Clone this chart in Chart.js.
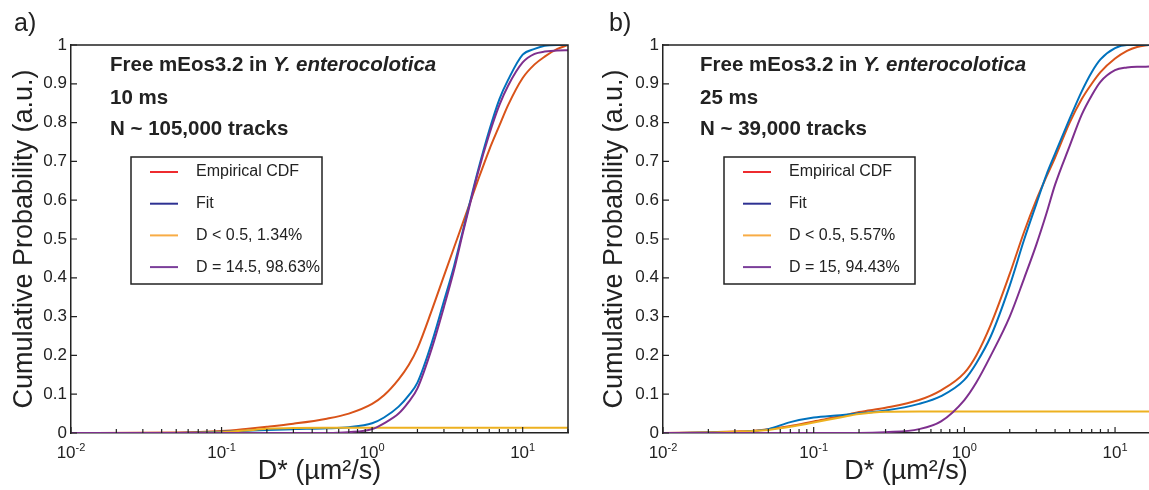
<!DOCTYPE html>
<html>
<head>
<meta charset="utf-8">
<script src="https://cdn.jsdelivr.net/npm/chart.js@4.4.0/dist/chart.umd.min.js"></script>
<style>
  body { margin: 0; background: #fff; }
  .panel { position: absolute; top: 0; height: 490px; }
  #wrapA { left: 0; width: 580px; }
  #wrapB { left: 590px; width: 559px; }
</style>
</head>
<body>
<div class="panel" id="wrapA"><canvas id="chartA"></canvas></div>
<div class="panel" id="wrapB"><canvas id="chartB"></canvas></div>
<script>
// series names (legend)
const labelsA = ["Empirical CDF", "Fit", "D < 0.5, 1.34%", "D = 14.5, 98.63%"];
const labelsB = ["Empirical CDF", "Fit", "D < 0.5, 5.57%", "D = 15, 94.43%"];

// panel text
const headA = ["10 ms", "N ~ 105,000 tracks"];
const headB = ["25 ms", "N ~ 39,000 tracks"];

// tick labels
const xExponents = [-2, -1, 0, 1];
const yTicks = [0, 0.1, 0.2, 0.3, 0.4, 0.5, 0.6, 0.7, 0.8, 0.9, 1];

// a) 10 ms, D* in um^2/s
const xA = [0.01, 0.05, 0.1, 0.15, 0.2, 0.3, 0.5, 0.7, 1, 1.2, 1.5, 1.75, 2, 2.5, 3, 3.5, 4, 4.5, 5, 6, 7, 8, 10, 12, 14, 17, 20];
const empA = [0, 0.001, 0.005, 0.011, 0.016, 0.024, 0.037, 0.05, 0.075, 0.097, 0.138, 0.175, 0.218, 0.318, 0.405, 0.478, 0.541, 0.597, 0.647, 0.73, 0.792, 0.845, 0.915, 0.95, 0.97, 0.99, 1.0];
const fitA = [0, 0, 0.003, 0.006, 0.008, 0.01, 0.012, 0.015, 0.025, 0.04, 0.068, 0.097, 0.13, 0.235, 0.34, 0.43, 0.52, 0.6, 0.67, 0.78, 0.86, 0.91, 0.975, 0.99, 0.998, 1.0, 1.0];
const slowA = [0, 0, 0.002, 0.007, 0.011, 0.013, 0.0134, 0.0134, 0.0134, 0.0134, 0.0134, 0.0134, 0.0134, 0.0134, 0.0134, 0.0134, 0.0134, 0.0134, 0.0134, 0.0134, 0.0134, 0.0134, 0.0134, 0.0134, 0.0134, 0.0134, 0.0134];
const fastA = [0, 0, 0, 0, 0, 0, 0, 0.002, 0.01, 0.025, 0.05, 0.08, 0.115, 0.22, 0.325, 0.42, 0.515, 0.595, 0.665, 0.77, 0.845, 0.895, 0.955, 0.977, 0.983, 0.986, 0.9863];

// b) 25 ms
const xB = [0.01, 0.02, 0.03, 0.04, 0.05, 0.07, 0.1, 0.15, 0.2, 0.3, 0.5, 0.7, 1, 1.2, 1.5, 2, 2.5, 3, 3.5, 4, 5, 6, 7, 8, 10, 12, 14, 16.8];
const empB = [0, 0.002, 0.004, 0.006, 0.01, 0.018, 0.03, 0.043, 0.054, 0.065, 0.085, 0.11, 0.155, 0.2, 0.28, 0.41, 0.52, 0.6, 0.66, 0.71, 0.8, 0.86, 0.9, 0.93, 0.965, 0.985, 0.995, 1.0];
const fitB = [0, 0.001, 0.002, 0.005, 0.01, 0.028, 0.04, 0.046, 0.051, 0.058, 0.075, 0.095, 0.137, 0.18, 0.25, 0.38, 0.5, 0.59, 0.665, 0.72, 0.81, 0.88, 0.93, 0.963, 0.992, 1.0, 1.0, 1.0];
const slowB = [0, 0.001, 0.003, 0.005, 0.008, 0.016, 0.027, 0.04, 0.049, 0.055, 0.0557, 0.0557, 0.0557, 0.0557, 0.0557, 0.0557, 0.0557, 0.0557, 0.0557, 0.0557, 0.0557, 0.0557, 0.0557, 0.0557, 0.0557, 0.0557, 0.0557, 0.0557];
const fastB = [0, 0, 0, 0, 0, 0, 0, 0, 0, 0.002, 0.01, 0.03, 0.085, 0.13, 0.2, 0.3, 0.4, 0.485, 0.565, 0.64, 0.74, 0.82, 0.87, 0.905, 0.935, 0.942, 0.944, 0.9443];

const FONT = "'Liberation Sans', Arial, sans-serif";
const INK = "#222";
const lineColors = ["#D95319", "#0072BD", "#EDB120", "#7E2F8E"];
const legendColors = ["#EE2B2F", "#2E3192", "#F8AC45", "#7B3F9A"];
const drawOrder = [3, 2, 1, 0];

Chart.defaults.font.family = FONT;
Chart.defaults.color = INK;

// frame, inward ticks, x labels, header text and legend box
const decorate = {
  id: "decorate",
  afterDraw(chart, args, o) {
    const ctx = chart.ctx;
    const a = chart.chartArea;
    const x = chart.scales.x, y = chart.scales.y;
    ctx.save();

    ctx.strokeStyle = INK;
    ctx.lineWidth = 1.5;
    ctx.beginPath();
    ctx.moveTo(a.left, a.top);
    ctx.lineTo(a.right, a.top);
    if (o.rightFrame) ctx.lineTo(a.right, a.bottom);
    ctx.stroke();

    ctx.lineWidth = 1.2;
    ctx.beginPath();
    yTicks.forEach(function(v) {
      const py = y.getPixelForValue(v);
      ctx.moveTo(a.left, py);
      ctx.lineTo(a.left + 6, py);
    });
    for (let e = -2; e <= 1; e++) {
      for (let m = 1; m <= 9; m++) {
        const v = m * Math.pow(10, e);
        if (v > x.max) break;
        const px = x.getPixelForValue(v);
        ctx.moveTo(px, a.bottom);
        ctx.lineTo(px, a.bottom - (m === 1 ? 6 : 4));
      }
    }
    ctx.stroke();

    // 10^n labels
    ctx.fillStyle = INK;
    ctx.textAlign = "left";
    ctx.textBaseline = "alphabetic";
    xExponents.forEach(function(e) {
      const px = x.getPixelForValue(Math.pow(10, e));
      ctx.font = "17px " + FONT;
      const w1 = ctx.measureText("10").width;
      ctx.font = "11px " + FONT;
      const w2 = ctx.measureText(String(e)).width;
      const left = px - (w1 + w2) / 2;
      ctx.font = "17px " + FONT;
      ctx.fillText("10", left, a.bottom + 25);
      ctx.font = "11px " + FONT;
      ctx.fillText(String(e), left + w1, a.bottom + 18);
    });

    // panel letter
    ctx.font = "25px " + FONT;
    ctx.textBaseline = "middle";
    ctx.fillText(o.letter, o.letterX, 24);

    // header
    const tx = 110;
    ctx.font = "bold 20.5px " + FONT;
    const lead = "Free mEos3.2 in ";
    ctx.fillText(lead, tx, 65);
    const lw = ctx.measureText(lead).width;
    ctx.font = "italic bold 20.5px " + FONT;
    ctx.fillText("Y. enterocolotica", tx + lw, 65);
    ctx.font = "bold 20.5px " + FONT;
    ctx.fillText(o.head[0], tx, 98);
    ctx.fillText(o.head[1], tx, 129);

    // legend box
    const lx = o.legendX, ly = 157;
    ctx.lineWidth = 1.5;
    ctx.strokeStyle = INK;
    ctx.strokeRect(lx, ly, 191, 127);
    ctx.font = "16px " + FONT;
    chart.data.datasets.forEach(function(ds, i) {
      const cy = ly + 15 + i * 31.7;
      ctx.strokeStyle = legendColors[i];
      ctx.lineWidth = 2;
      ctx.beginPath();
      ctx.moveTo(lx + 19, cy);
      ctx.lineTo(lx + 47, cy);
      ctx.stroke();
      ctx.fillStyle = INK;
      ctx.fillText(ds.label, lx + 65, cy);
    });

    ctx.restore();
  }
};

function buildSets(xs, series, names) {
  return series.map(function(ys, i) {
    return {
      label: names[i],
      data: xs.map(function(v, j) { return { x: v, y: ys[j] }; }),
      borderColor: lineColors[i],
      borderWidth: 2,
      pointRadius: 0,
      fill: false,
      cubicInterpolationMode: "monotone",
      order: drawOrder[i]
    };
  });
}

function makeChart(id, xs, series, names, xMax, axisWidth, rightPad, extra) {
  return new Chart(document.getElementById(id), {
    type: "line",
    data: { datasets: buildSets(xs, series, names) },
    options: {
      responsive: true,
      maintainAspectRatio: false,
      animation: false,
      events: [],
      layout: { padding: { top: 45, right: rightPad, bottom: 0, left: 0 } },
      plugins: { legend: { display: false }, tooltip: { enabled: false }, decorate: extra },
      scales: {
        x: {
          type: "logarithmic",
          min: 0.01,
          max: xMax,
          grid: { display: false, drawTicks: false },
          border: { display: true, color: INK, width: 1.5 },
          ticks: { display: false },
          title: { display: true, text: "D* (µm²/s)", font: { size: 27 }, color: INK, padding: { top: 0, bottom: 2 } },
          afterFit: function(s) { s.height = 57; s.paddingLeft = 0; s.paddingRight = 0; s.paddingTop = 0; s.paddingBottom = 0; }
        },
        y: {
          min: 0,
          max: 1,
          grid: { display: false, drawTicks: false },
          border: { display: true, color: INK, width: 1.5 },
          ticks: { padding: 4, font: { size: 17 }, color: INK, callback: function(v) { return +v.toFixed(1); } },
          afterBuildTicks: function(s) { s.ticks = yTicks.map(function(v) { return { value: v }; }); },
          title: { display: true, text: "Cumulative Probability (a.u.)", font: { size: 27 }, color: INK, padding: { top: 8, bottom: 0 } },
          afterFit: function(s) { s.width = axisWidth; s.paddingTop = 0; s.paddingBottom = 0; s.paddingLeft = 0; s.paddingRight = 0; }
        }
      }
    },
    plugins: [decorate]
  });
}

makeChart("chartA", xA, [empA, fitA, slowA, fastA], labelsA, 20, 71, 12,
  { letter: "a)", letterX: 14, head: headA, legendX: 131, rightFrame: true });
makeChart("chartB", xB, [empB, fitB, slowB, fastB], labelsB, 16.8, 73, 0,
  { letter: "b)", letterX: 19, head: headB, legendX: 134, rightFrame: false });
</script>
</body>
</html>
